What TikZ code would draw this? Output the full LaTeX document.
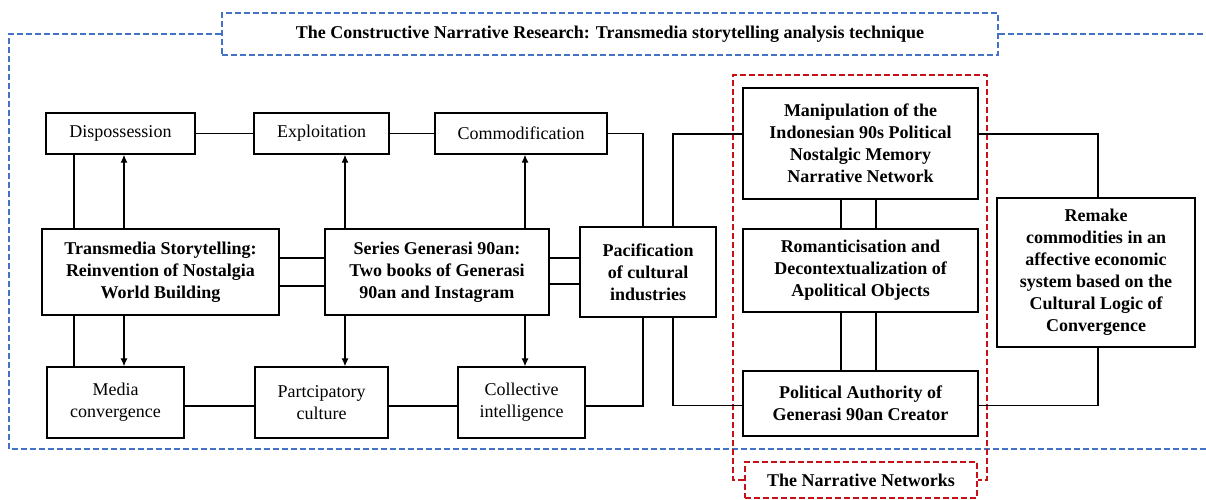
\documentclass[tikz,border=0pt]{standalone}
\usepackage{fontspec}
\setmainfont{Liberation Serif}
\usetikzlibrary{arrows.meta}
\definecolor{frameblue}{RGB}{68,114,196}
\definecolor{netred}{RGB}{200,16,24}
\tikzstyle{box}=[
	draw=black,
	line width=1.4pt,
	fill=white,
	align=center,
	inner sep=0pt
]
\tikzstyle{boldbox}=[
	box,
	font=\bfseries
]
\tikzstyle{connector}=[
	-,
	draw=black,
	line width=1.1pt
]
\tikzstyle{flowarrow}=[
	connector,
	-{Latex[length=8pt,width=7pt]}
]
\tikzstyle{bluedash}=[
	draw=frameblue,
	line width=1.5pt,
	dash pattern=on 6pt off 3pt
]
\tikzstyle{reddash}=[
	draw=netred,
	line width=1.5pt,
	dash pattern=on 6pt off 3pt
]
\begin{document}
\fontsize{18pt}{22pt}\selectfont
\begin{tikzpicture}[x=1pt,y=-1pt]
\useasboundingbox (0,0) rectangle (1206,499);

\node[boldbox, bluedash, minimum width=776pt, minimum height=42pt] (title) at (610,34) {The Constructive Narrative Research: Transmedia storytelling analysis technique};

\node[box, minimum width=149pt, minimum height=41pt] (disp) at (120.5,133.5) {Dispossession};
\node[box, minimum width=135pt, minimum height=41pt] (expl) at (321.5,133.5) {Exploitation};
\node[box, minimum width=172pt, minimum height=41pt] (comm) at (521,133.5) {Commodification};

\node[boldbox, minimum width=237pt, minimum height=86pt] (trans) at (160.5,272) {Transmedia Storytelling:\\Reinvention of Nostalgia\\World Building};
\node[boldbox, minimum width=224pt, minimum height=86pt] (series) at (437,272) {Series Generasi 90an:\\Two books of Generasi\\90an and Instagram};
\node[boldbox, minimum width=136pt, minimum height=90pt] (pacif) at (648,272) {Pacification\\of cultural\\industries};

\node[box, minimum width=137pt, minimum height=71pt] (media) at (115.5,402.5) {Media\\convergence};
\node[box, minimum width=133pt, minimum height=71pt] (partc) at (321.5,402.5) {Partcipatory\\culture};
\node[box, minimum width=127pt, minimum height=71pt] (coll) at (521.5,402.5) {Collective\\intelligence};

\node[boldbox, minimum width=235pt, minimum height=111pt] (manip) at (860.5,143.5) {Manipulation of the\\Indonesian 90s Political\\Nostalgic Memory\\Narrative Network};
\node[boldbox, minimum width=235pt, minimum height=83pt] (roman) at (860.5,270.5) {Romanticisation and\\Decontextualization of\\Apolitical Objects};
\node[boldbox, minimum width=235pt, minimum height=65pt] (polit) at (860.5,403.5) {Political Authority of\\Generasi 90an Creator};
\node[boldbox, minimum width=198pt, minimum height=149pt] (remake) at (1096,272.5) {Remake\\commodities in an\\affective economic\\system based on the\\Cultural Logic of\\Convergence};

\node[boldbox, reddash, minimum width=232pt, minimum height=36pt] (narr) at (861,480) {The Narrative Networks};

% frames
\draw[bluedash] (title.west) -- (9,34) -- (9,449) -- (1206,449);
\draw[bluedash] (title.east) -- (1206,34);
\draw[reddash] (narr.west) -- (733,480) -- (733,75) -- (987,75) -- (987,480) -- (narr.east);

% top and bottom rows
\draw[connector] (disp) to (expl);
\draw[connector] (expl) to (comm);
\draw[connector] ([yshift=-3.5pt]media.east) to ([yshift=-3.5pt]partc.west);
\draw[connector] ([yshift=-3.5pt]partc.east) to ([yshift=-3.5pt]coll.west);

% middle row
\draw[connector] ([yshift=14pt]trans.east) to ([yshift=14pt]series.west);
\draw[connector] ([yshift=-14pt]trans.east) to ([yshift=-14pt]series.west);
\draw[connector] ([yshift=14pt]series.east) to ([yshift=14pt]pacif.west);
\draw[connector] ([yshift=-12pt]series.east) to ([yshift=-12pt]pacif.west);

% transmedia up and down
\draw[connector] ([xshift=-86.5pt]trans.north) to ([xshift=-86.5pt]trans.north |- disp.south);
\draw[flowarrow] ([xshift=-36.5pt]trans.north) to ([xshift=-36.5pt]trans.north |- disp.south);
\draw[connector] ([xshift=-86.5pt]trans.south) to ([xshift=-86.5pt]trans.south |- media.north);
\draw[flowarrow] ([xshift=-36.5pt]trans.south) to ([xshift=-36.5pt]trans.south |- media.north);

% series up and down
\draw[flowarrow] ([xshift=-92pt]series.north) to ([xshift=-92pt]series.north |- expl.south);
\draw[flowarrow] ([xshift=88pt]series.north) to ([xshift=88pt]series.north |- comm.south);
\draw[flowarrow] ([xshift=-92pt]series.south) to ([xshift=-92pt]series.south |- partc.north);
\draw[flowarrow] ([xshift=88pt]series.south) to ([xshift=88pt]series.south |- coll.north);

% pacification
\draw[connector] (comm.east) -| ([xshift=-5pt]pacif.north);
\draw[connector] ([xshift=25pt]pacif.north) |- ([yshift=9.5pt]manip.west);
\draw[connector] ([yshift=-3.5pt]coll.east) -| ([xshift=-5pt]pacif.south);
\draw[connector] ([xshift=25pt]pacif.south) |- ([yshift=-2pt]polit.west);

% narrative networks
\draw[connector] ([xshift=-19.5pt]manip.south) to ([xshift=-19.5pt]roman.north);
\draw[connector] ([xshift=15.5pt]manip.south) to ([xshift=15.5pt]roman.north);
\draw[connector] ([xshift=-19.5pt]roman.south) to ([xshift=-19.5pt]polit.north);
\draw[connector] ([xshift=15.5pt]roman.south) to ([xshift=15.5pt]polit.north);
\draw[connector] ([yshift=9.5pt]manip.east) -| ([xshift=2pt]remake.north);
\draw[connector] ([xshift=2pt]remake.south) |- ([yshift=-2pt]polit.east);

\end{tikzpicture}
\end{document}
